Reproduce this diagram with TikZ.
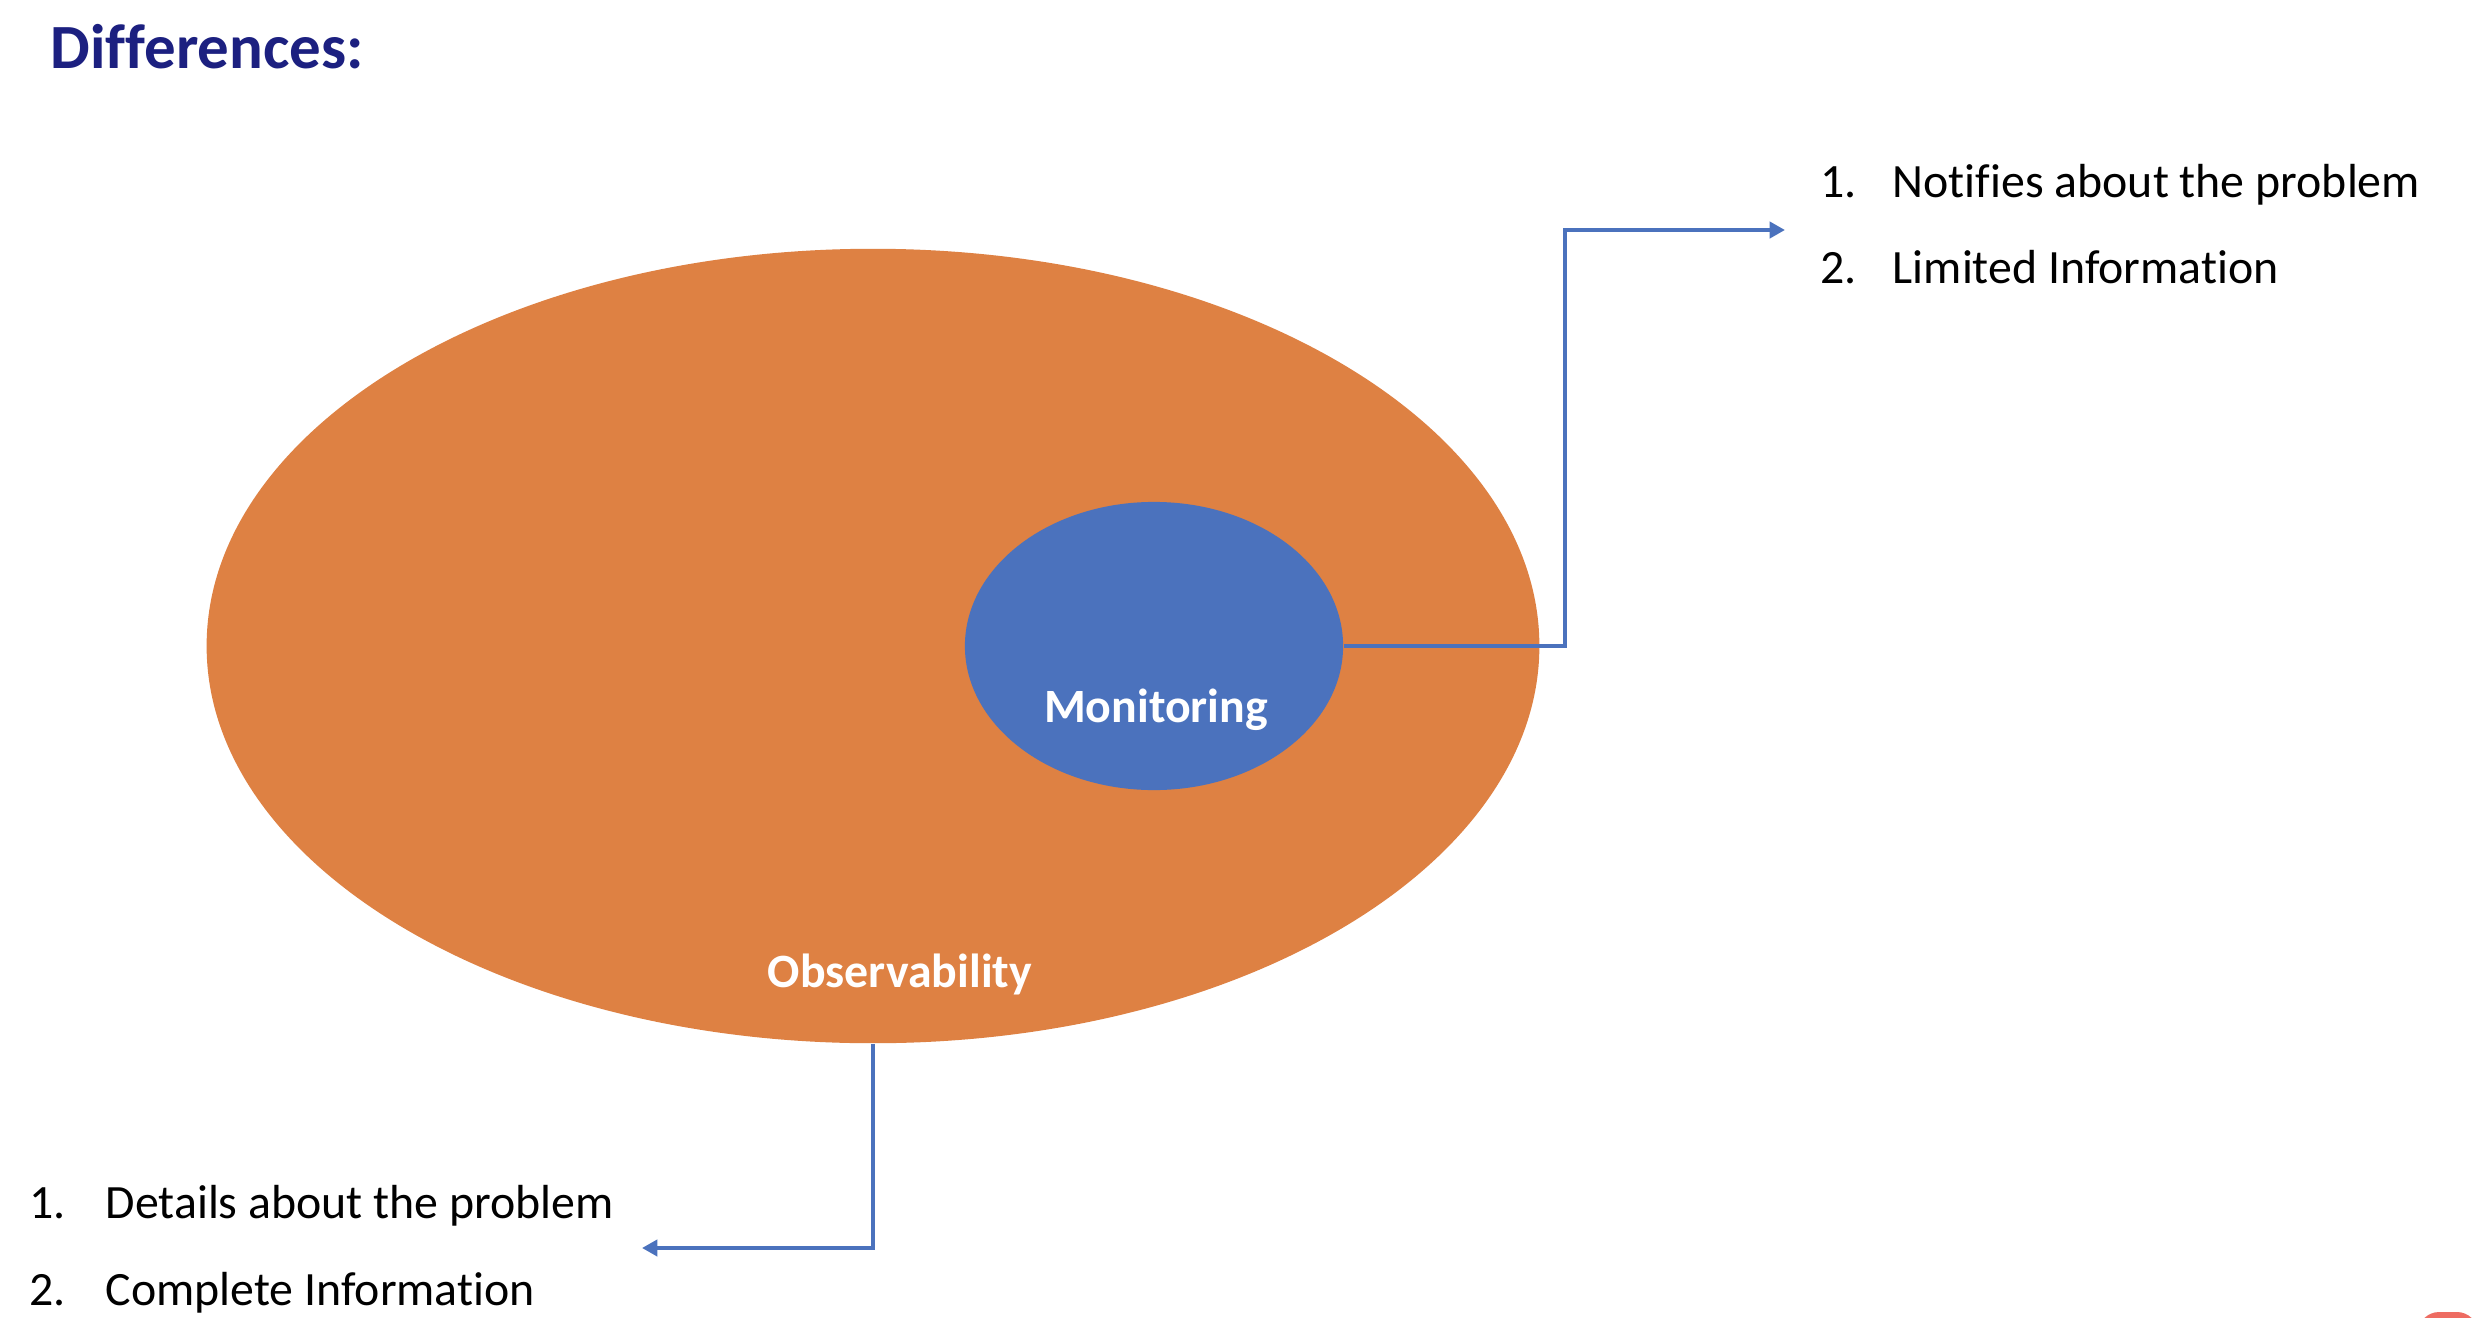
\documentclass[tikz,border=0pt]{standalone}
\usepackage{fontspec}
\setmainfont{Carlito}[Ligatures={NoCommon}]
\usetikzlibrary{arrows.meta,shapes.geometric}

\definecolor{obsorange}{RGB}{222,129,67}
\definecolor{monblue}{RGB}{75,114,189}
\definecolor{titlenavy}{RGB}{28,32,128}
\definecolor{cornerred}{RGB}{238,108,98}

\begin{document}
\begin{tikzpicture}[x=0.01cm,y=-0.01cm,
  blob/.style={ellipse, draw=none, inner sep=0pt},
  blobtext/.style={text=white, font=\bfseries\fontsize{13.6pt}{16pt}\selectfont, anchor=base},
  itemtext/.style={text=black, font=\fontsize{13.6pt}{16pt}\selectfont, anchor=base west, inner sep=0pt},
  link/.style={draw=monblue, line width=1.2pt, -{Triangle[length=4.4pt,width=4.6pt]}}
]
\useasboundingbox (0,0) rectangle (2484,1318);
\fill[white] (0,0) rectangle (2484,1318);

% heading
\node[anchor=base west, inner sep=0pt, text=titlenavy,
      font=\bfseries\fontsize{17.9pt}{20pt}\selectfont] (title) at (50,68) {Differences:};

% the two nested sets
\node[blob, fill=obsorange, minimum width=13.32cm, minimum height=7.94cm] (obs) at (873,646) {};
\node[blob, fill=monblue, minimum width=3.78cm, minimum height=2.88cm] (mon) at (1154,646) {};

\node[blobtext] (monlabel) at (1156,722) {Monitoring};
\node[blobtext] (obslabel) at (900,987) {Observability};

% right-hand list
\node[itemtext] (mon1) at (1820,197) {\makebox[0.72cm][l]{1.}Notifies about the problem};
\node[itemtext] (mon2) at (1820,283) {\makebox[0.72cm][l]{2.}Limited Information};

% bottom-left list
\node[itemtext] (obs1) at (29,1218) {\makebox[0.76cm][l]{1.}Details about the problem};
\node[itemtext] (obs2) at (29,1305) {\makebox[0.76cm][l]{2.}Complete Information};

% elbow connectors
\coordinate (monbend) at (1565,646);
\coordinate (monend) at (1785,230);
\coordinate (obsend) at (642,1248);
\draw[link] (mon.east) -- (monbend) |- (monend);
\draw[link] (obs.south) |- (obsend);

% clipped badge in the lower right corner
\begin{scope}
  \clip (0,0) rectangle (2484,1318);
  \fill[cornerred, rounded corners=6pt] (2418,1312) rectangle (2478,1360);
\end{scope}
\end{tikzpicture}
\end{document}
